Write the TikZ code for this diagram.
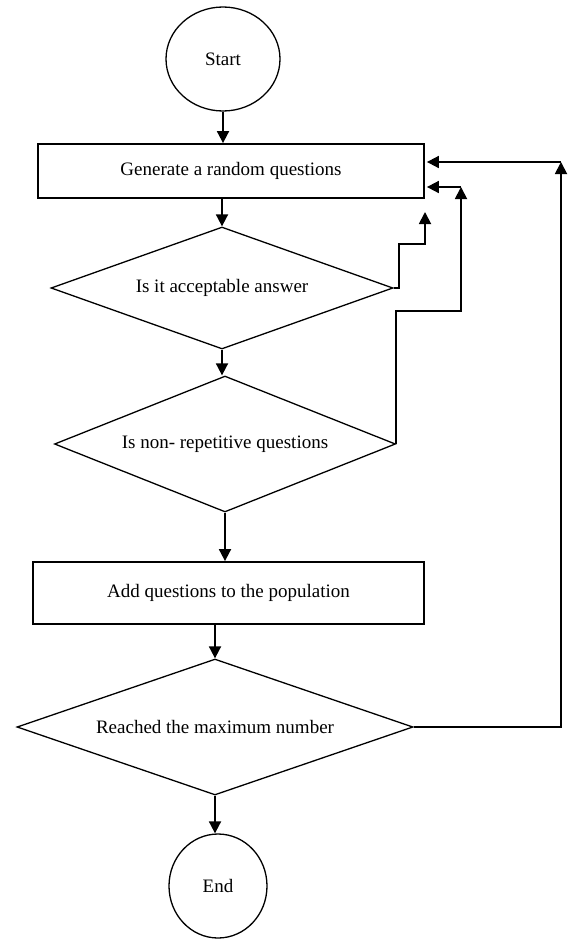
\documentclass[tikz,border=0pt]{standalone}
\usepackage{fontspec}
\setmainfont{Liberation Serif}
\usetikzlibrary{shapes.geometric,arrows.meta}
\begin{document}
\begin{tikzpicture}[x=1pt,y=-1pt,
  every node/.style={font=\fontsize{19}{22}\selectfont, inner sep=0pt},
  term/.style={ellipse, draw, line width=1.3pt},
  procbox/.style={rectangle, draw, line width=1.8pt},
  decide/.style={diamond, draw, line width=1.3pt},
  arr/.style={line width=1.8pt, -{Triangle[length=12pt,width=12pt]}}]
\useasboundingbox (0,0) rectangle (574,939);
\node[term, minimum width=114pt, minimum height=104pt] (start) at (223,59) {Start};
\node[procbox, minimum width=386pt, minimum height=54pt] (gen) at (231,171) {Generate a random questions};
\node[decide, shape aspect=2.8, minimum width=342pt, minimum height=122pt] (d1) at (222,288) {Is it acceptable answer};
\node[decide, shape aspect=2.5, minimum width=341pt, minimum height=136pt] (d2) at (225,444) {Is non- repetitive questions};
\node[procbox, minimum width=391pt, minimum height=62pt] (add) at (228.5,593) {Add questions to the population};
\node[decide, shape aspect=2.9, minimum width=396pt, minimum height=136pt] (d3) at (215,727) {Reached the maximum number};
\node[term, minimum width=98pt, minimum height=104pt] (end) at (218,886) {End};

\coordinate (l1a) at (399,244);
\coordinate (l1tip) at (425,212);
\coordinate (l2a) at (461,311);
\coordinate (l2b) at (461,187);
\coordinate (l3b) at (561,162);

\draw[arr] (start.south) -- (start.south |- gen.north);
\draw[arr] (d1.north |- gen.south) -- (d1.north);
\draw[arr] (d1.south) -- (d1.south |- d2.north);
\draw[arr] (d2.south) -- (d2.south |- add.north);
\draw[arr] (d3.north |- add.south) -- (d3.north);
\draw[arr] (d3.south) -- (d3.south |- end.north);

\draw[arr] (d1.east) -| (l1a) -| (l1tip);
\draw[arr] (d2.east) |- (l2a) -- (l2b);
\draw[arr] (l2b) -- ([xshift=2pt]gen.east |- l2b);
\draw[arr] (d3.east) -| (l3b);
\draw[arr] (l3b) -- ([xshift=2pt]gen.east |- l3b);
\end{tikzpicture}
\end{document}
